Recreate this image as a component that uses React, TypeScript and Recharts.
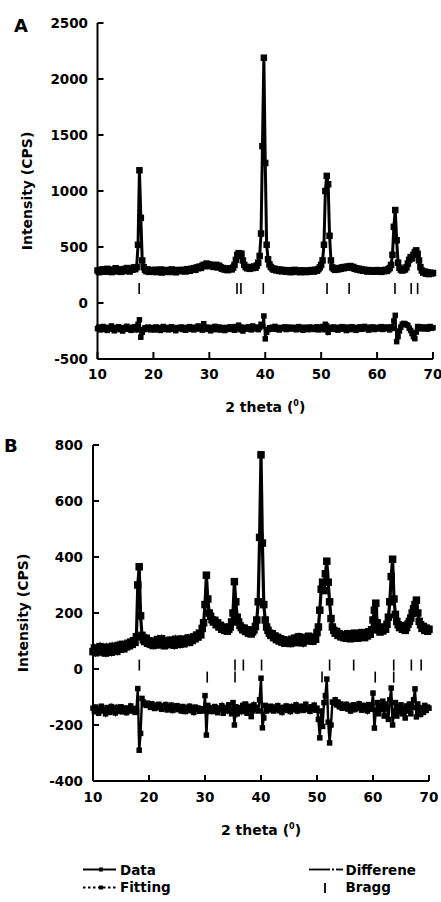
import React from 'react';
import { ComposedChart, Line, Scatter, XAxis, YAxis, Label, Legend } from 'recharts';

// ---------- shared 2-theta grid (degrees) ----------
const theta = [
  10, 10.25, 10.5, 10.75, 11, 11.25, 11.5, 11.75, 12, 12.25, 12.5, 12.75, 13, 13.25, 13.5, 13.75, 14, 14.25, 14.5, 14.75,
  15, 15.25, 15.5, 15.75, 16, 16.25, 16.5, 16.75, 17, 17.25, 17.5, 17.75, 18, 18.25, 18.5, 18.75, 19, 19.25, 19.5, 19.75,
  20, 20.25, 20.5, 20.75, 21, 21.25, 21.5, 21.75, 22, 22.25, 22.5, 22.75, 23, 23.25, 23.5, 23.75, 24, 24.25, 24.5, 24.75,
  25, 25.25, 25.5, 25.75, 26, 26.25, 26.5, 26.75, 27, 27.25, 27.5, 27.75, 28, 28.25, 28.5, 28.75, 29, 29.25, 29.5, 29.75,
  30, 30.25, 30.5, 30.75, 31, 31.25, 31.5, 31.75, 32, 32.25, 32.5, 32.75, 33, 33.25, 33.5, 33.75, 34, 34.25, 34.5, 34.75,
  35, 35.25, 35.5, 35.75, 36, 36.25, 36.5, 36.75, 37, 37.25, 37.5, 37.75, 38, 38.25, 38.5, 38.75, 39, 39.25, 39.5, 39.75,
  40, 40.25, 40.5, 40.75, 41, 41.25, 41.5, 41.75, 42, 42.25, 42.5, 42.75, 43, 43.25, 43.5, 43.75, 44, 44.25, 44.5, 44.75,
  45, 45.25, 45.5, 45.75, 46, 46.25, 46.5, 46.75, 47, 47.25, 47.5, 47.75, 48, 48.25, 48.5, 48.75, 49, 49.25, 49.5, 49.75,
  50, 50.25, 50.5, 50.75, 51, 51.25, 51.5, 51.75, 52, 52.25, 52.5, 52.75, 53, 53.25, 53.5, 53.75, 54, 54.25, 54.5, 54.75,
  55, 55.25, 55.5, 55.75, 56, 56.25, 56.5, 56.75, 57, 57.25, 57.5, 57.75, 58, 58.25, 58.5, 58.75, 59, 59.25, 59.5, 59.75,
  60, 60.25, 60.5, 60.75, 61, 61.25, 61.5, 61.75, 62, 62.25, 62.5, 62.75, 63, 63.25, 63.5, 63.75, 64, 64.25, 64.5, 64.75,
  65, 65.25, 65.5, 65.75, 66, 66.25, 66.5, 66.75, 67, 67.25, 67.5, 67.75, 68, 68.25, 68.5, 68.75, 69, 69.25, 69.5, 69.75,
  70,
];

// ---------- Panel A ----------
const obsA = [
  290, 275, 296, 283, 301, 279, 288, 305, 284, 292, 276, 298, 287, 310, 282, 295, 300, 278, 291, 303,
  286, 312, 294, 281, 305, 297, 318, 302, 320, 520, 1185, 760, 380, 320, 296, 284, 300, 278, 292, 285,
  281, 297, 276, 290, 284, 299, 272, 288, 295, 280, 291, 277, 286, 300, 283, 289, 274, 295, 287, 292,
  284, 296, 290, 281, 302, 293, 288, 305, 299, 311, 296, 318, 310, 325, 314, 332, 341, 328, 352, 336,
  345, 330, 338, 322, 330, 341, 318, 333, 320, 305, 312, 298, 306, 293, 301, 310, 300, 316, 340, 385,
  430, 445, 420, 440, 380, 340, 322, 310, 318, 305, 321, 312, 326, 315, 335, 360, 420, 620, 1400, 2190,
  1250, 520, 390, 345, 322, 310, 298, 305, 291, 300, 286, 297, 283, 294, 288, 279, 293, 285, 275, 290,
  282, 296, 278, 289, 284, 275, 292, 280, 287, 276, 291, 283, 279, 294, 286, 281, 297, 289, 302, 318,
  340, 380, 520, 1000, 1135, 1060, 600, 380, 318, 305, 296, 308, 300, 312, 305, 318, 310, 322, 315, 326,
  318, 330, 314, 322, 305, 311, 298, 306, 293, 301, 288, 296, 290, 281, 294, 285, 292, 279, 288, 283,
  294, 280, 289, 278, 291, 284, 296, 287, 300, 312, 340, 430, 680, 830, 560, 360, 315, 298, 290, 296,
  300, 318, 352, 385, 410, 398, 430, 455, 470, 440, 380, 320, 290, 272, 281, 262, 275, 258, 270, 264,
  268,
];

const diffA = [
  -228, -215, -240, -222, -210, -236, -225, -245, -218, -230, -205, -232, -248, -220, -226, -212, -238, -224, -250, -219,
  -230, -208, -235, -222, -244, -216, -228, -211, -240, -190, -150, -305, -262, -238, -221, -234, -215, -229, -240, -218,
  -226, -241, -214, -232, -220, -245, -223, -210, -236, -228, -218, -240, -225, -212, -234, -226, -247, -219, -231, -222,
  -214, -237, -226, -243, -218, -229, -211, -236, -224, -240, -216, -228, -205, -232, -219, -242, -185, -228, -215, -236,
  -222, -248, -217, -233, -209, -238, -226, -214, -241, -220, -230, -246, -218, -225, -236, -212, -229, -221, -243, -210,
  -224, -198, -238, -215, -250, -227, -219, -233, -212, -226, -240, -205, -222, -231, -215, -238, -220, -190, -205, -116,
  -320, -262, -238, -221, -234, -216, -228, -209, -235, -222, -241, -218, -230, -224, -213, -237, -226, -215, -232, -220,
  -228, -217, -239, -223, -211, -234, -225, -243, -216, -230, -222, -238, -214, -227, -219, -236, -224, -212, -240, -221,
  -226, -210, -238, -190, -205, -262, -235, -218, -229, -214, -236, -222, -242, -217, -228, -211, -233, -224, -246, -215,
  -226, -238, -212, -230, -221, -244, -218, -227, -213, -235, -224, -209, -231, -220, -242, -216, -228, -214, -237, -222,
  -217, -232, -223, -211, -236, -225, -214, -229, -220, -240, -212, -226, -160, -110, -345, -300, -250, -215, -190, -182,
  -186, -195, -200, -225, -245, -272, -300, -318, -260, -210, -224, -212, -231, -219, -228, -214, -233, -222, -210, -226,
  -220,
];

// calculated (fitted) profile A: [2theta, intensity]
const fitA: [number, number][] = [
  [10, 288], [11, 288], [12, 289], [13, 290], [14, 291], [15, 292], [16, 296], [16.5, 300], [17, 318], [17.25, 500],
  [17.5, 1160], [17.75, 740], [18, 372], [18.5, 310], [19, 294], [20, 288], [22, 288], [24, 288], [25, 290], [26, 294],
  [27, 302], [28, 312], [29, 325], [30, 335], [31, 330], [32, 318], [33, 305], [34, 302], [34.5, 335], [34.75, 380],
  [35, 425], [35.25, 440], [35.5, 425], [35.75, 430], [36, 375], [36.5, 322], [37, 312], [38, 318], [38.5, 338], [39, 410],
  [39.25, 600], [39.5, 1380], [39.75, 2170], [40, 1230], [40.25, 510], [40.5, 385], [41, 318], [42, 296], [44, 288], [46, 284],
  [48, 286], [49, 292], [49.5, 305], [50, 338], [50.5, 510], [50.75, 990], [51, 1120], [51.25, 1040], [51.5, 590], [51.75, 375],
  [52, 315], [53, 305], [54, 312], [55, 320], [56, 306], [57, 296], [58, 289], [60, 287], [61, 290], [62, 300],
  [62.5, 335], [62.75, 425], [63, 670], [63.25, 815], [63.5, 550], [63.75, 355], [64, 312], [64.5, 293], [65, 302], [65.5, 350],
  [66, 405], [66.5, 428], [67, 462], [67.5, 378], [68, 288], [68.5, 274], [69, 268], [70, 266],
];

const braggA = [17.45, 34.95, 35.65, 39.65, 51.05, 55.0, 63.2, 66.1, 67.25];
const braggLevelA = 130;
const yTicksA = [-500, 0, 500, 1000, 1500, 2000, 2500];

// ---------- Panel B ----------
const obsB = [
  62, 75, 58, 70, 66, 80, 61, 73, 68, 57, 78, 66, 72, 60, 81, 69, 74, 63, 84, 71,
  77, 88, 72, 85, 79, 92, 83, 96, 88, 101, 95, 115, 300, 365, 190, 120, 104, 98, 110, 92,
  101, 88, 97, 84, 99, 90, 105, 86, 94, 108, 91, 83, 100, 95, 87, 103, 92, 98, 85, 106,
  93, 100, 88, 107, 96, 90, 104, 99, 111, 95, 106, 102, 115, 108, 121, 114, 128, 122, 145, 165,
  230, 335, 250, 200, 188, 176, 168, 174, 158, 165, 150, 156, 142, 150, 138, 146, 135, 142, 150, 168,
  200, 312, 240, 185, 168, 155, 148, 140, 146, 134, 140, 128, 136, 125, 133, 140, 152, 175, 240, 470,
  765, 450, 230, 175, 150, 138, 128, 120, 126, 112, 118, 105, 113, 100, 108, 96, 104, 92, 101, 95,
  103, 91, 106, 97, 110, 94, 102, 115, 98, 107, 93, 112, 100, 108, 117, 103, 111, 99, 114, 106,
  130, 150, 210, 285, 310, 280, 340, 385, 310, 240, 180, 150, 138, 128, 134, 120, 126, 115, 122, 112,
  120, 110, 126, 116, 108, 122, 113, 128, 118, 110, 125, 115, 130, 121, 112, 127, 118, 133, 124, 140,
  175, 210, 235, 165, 140, 132, 145, 136, 150, 142, 160, 185, 240, 330, 392, 250, 195, 170, 158, 148,
  155, 142, 150, 138, 148, 160, 170, 182, 200, 215, 230, 246, 200, 170, 158, 145, 152, 138, 146, 135,
  142,
];

const diffB = [
  -140, -152, -136, -148, -158, -142, -133, -150, -145, -160, -138, -147, -155, -134, -149, -141, -157, -137, -151, -144,
  -135, -153, -146, -139, -156, -143, -150, -132, -148, -141, -155, -150, -70, -290, -230, -105, -118, -125, -130, -122,
  -128, -137, -124, -133, -141, -129, -138, -126, -135, -144, -131, -139, -127, -146, -134, -140, -129, -148, -136, -142,
  -131, -145, -138, -150, -134, -143, -152, -137, -146, -133, -149, -140, -155, -136, -144, -139, -151, -142, -148, -150,
  -95, -236, -130, -150, -138, -152, -141, -134, -148, -156, -139, -145, -131, -158, -143, -137, -150, -128, -146, -160,
  -120, -200, -135, -160, -145, -138, -152, -130, -147, -125, -158, -140, -133, -170, -150, -128, -144, -137, -150, -110,
  -33, -210, -175, -130, -150, -138, -146, -133, -141, -150, -136, -144, -131, -149, -140, -155, -137, -145, -132, -148,
  -139, -152, -134, -146, -141, -128, -150, -137, -144, -133, -148, -140, -126, -145, -138, -151, -135, -143, -129, -147,
  -140, -180, -246, -150, -205, -120, -95, -36, -190, -264, -200, -118, -122, -110, -128, -118, -135, -125, -140, -130,
  -138, -126, -143, -132, -150, -137, -128, -145, -133, -141, -124, -139, -147, -130, -142, -135, -150, -127, -144, -138,
  -86, -211, -150, -120, -160, -130, -145, -115, -168, -125, -140, -180, -110, -68, -200, -155, -120, -168, -135, -150,
  -128, -160, -140, -175, -132, -150, -125, -160, -138, -110, -71, -171, -125, -150, -162, -138, -155, -130, -148, -136,
  -140,
];

const fitB: [number, number][] = [
  [10, 68], [12, 72], [14, 78], [16, 88], [17, 97], [17.5, 104], [17.75, 118], [18, 290], [18.25, 350], [18.5, 180],
  [18.75, 118], [19, 102], [20, 96], [22, 94], [24, 94], [26, 100], [27, 106], [28, 118], [29, 138], [29.5, 152],
  [29.75, 168], [30, 225], [30.25, 325], [30.5, 245], [30.75, 198], [31, 182], [32, 160], [33, 146], [34, 140], [34.5, 148],
  [34.75, 165], [35, 198], [35.25, 300], [35.5, 235], [35.75, 185], [36, 166], [37, 142], [38, 132], [38.5, 134], [39, 150],
  [39.25, 172], [39.5, 238], [39.75, 460], [40, 745], [40.25, 440], [40.5, 228], [40.75, 172], [41, 150], [42, 120], [43, 108],
  [44, 100], [46, 102], [48, 105], [49, 110], [49.5, 116], [50, 130], [50.25, 152], [50.5, 212], [50.75, 280], [51, 305],
  [51.25, 290], [51.5, 335], [51.75, 370], [52, 305], [52.25, 238], [52.5, 180], [52.75, 152], [53, 138], [54, 122], [56, 118],
  [58, 120], [59, 125], [59.5, 140], [60, 172], [60.25, 205], [60.5, 228], [60.75, 165], [61, 140], [62, 145], [62.5, 158],
  [62.75, 182], [63, 238], [63.25, 325], [63.5, 380], [63.75, 255], [64, 196], [64.5, 160], [65, 150], [66, 150], [66.5, 168],
  [67, 196], [67.5, 228], [67.75, 240], [68, 202], [68.5, 160], [69, 148], [70, 140],
];

const braggB1 = [18.27, 35.36, 36.85, 40.1, 52.25, 56.55, 63.7, 66.85, 68.6];
const braggB2 = [30.4, 35.36, 50.9, 60.4, 63.7];
const braggLevelB1 = 14;
const braggLevelB2 = -29;
const yTicksB = [-400, -200, 0, 200, 400, 600, 800];

const xTicks = [10, 20, 30, 40, 50, 60, 70];
const legendLabels = ['Data', 'Fitting', 'Differene', 'Bragg'];

// ---------- tables ----------
const tableA = theta.map((t, i) => ({ theta: t, obs: obsA[i], diff: diffA[i] }));
const tableB = theta.map((t, i) => ({ theta: t, obs: obsB[i], diff: diffB[i] }));
const fitTableA = fitA.map(([t, v]) => ({ theta: t, fit: v }));
const fitTableB = fitB.map(([t, v]) => ({ theta: t, fit: v }));
const braggTableA = braggA.map((t) => ({ theta: t, bragg: braggLevelA }));
const braggTableB1 = braggB1.map((t) => ({ theta: t, bragg: braggLevelB1 }));
const braggTableB2 = braggB2.map((t) => ({ theta: t, bragg: braggLevelB2 }));

const FONT = "'DejaVu Sans', 'Liberation Sans', sans-serif";
const tickStyle = { fill: '#000', fontSize: 13.5, fontFamily: FONT, fontWeight: 700 };
const textStyle: React.CSSProperties = { fontFamily: FONT, fontWeight: 700, fontSize: 13.5, fill: '#000' };

const BraggTick = (props: any) => {
  const { cx, cy } = props;
  if (cx == null || cy == null) return null;
  return <line x1={cx} x2={cx} y1={cy - 5.5} y2={cy + 5.5} stroke="#000" strokeWidth={1.6} />;
};

const squareDot = (size: number) => (props: any) => {
  const { cx, cy, index } = props;
  if (cx == null || cy == null) return <g key={`e${index}`} />;
  return <rect key={`d${index}`} x={cx - size / 2} y={cy - size / 2} width={size} height={size} fill="#000" />;
};
const obsDotA = squareDot(6.5);
const obsDotB = squareDot(7.5);
const diffDot = squareDot(5.5);

const makeYTitle = (letter: string, letterX: number, letterY: number, titleX: number) => (props: any) => {
  const vb = props.viewBox || {};
  const cy = vb.y + vb.height / 2;
  return (
    <g>
      <text x={letterX} y={letterY} style={{ ...textStyle, fontSize: 18 }}>{letter}</text>
      <text
        x={titleX}
        y={cy}
        textAnchor="middle"
        transform={`rotate(-90, ${titleX}, ${cy})`}
        style={{ ...textStyle, fontSize: 14 }}
      >
        Intensity (CPS)
      </text>
    </g>
  );
};

const makeXTitle = (dy: number) => (props: any) => {
  const vb = props.viewBox || {};
  const cx = vb.x + vb.width / 2;
  return (
    <text x={cx} y={vb.y + dy} textAnchor="middle" style={{ ...textStyle, fontSize: 14 }}>
      2 theta (<tspan fontSize={8} dy={-6.5}>0</tspan>
      <tspan dy={6.5}>)</tspan>
    </text>
  );
};

const LegendBox = () => (
  <svg width={441} height={44} style={{ display: 'block' }}>
    {/* Data */}
    <line x1={83} x2={116} y1={9.5} y2={9.5} stroke="#000" strokeWidth={1.8} />
    <rect x={99} y={7.5} width={4} height={4} fill="#000" />
    <text x={120} y={15} style={textStyle}>{legendLabels[0]}</text>
    {/* Fitting */}
    <line x1={83} x2={117} y1={27.5} y2={27.5} stroke="#000" strokeWidth={1.8} strokeDasharray="2.5 2.5" />
    <rect x={99} y={25.5} width={4} height={4} fill="#000" />
    <text x={120} y={32} style={textStyle}>{legendLabels[1]}</text>
    {/* Difference */}
    <line x1={309} x2={330} y1={9.5} y2={9.5} stroke="#000" strokeWidth={1.8} />
    <line x1={332} x2={334} y1={9.5} y2={9.5} stroke="#000" strokeWidth={1.8} />
    <line x1={336} x2={343} y1={9.5} y2={9.5} stroke="#000" strokeWidth={1.8} />
    <text x={345.5} y={15} style={textStyle}>{legendLabels[2]}</text>
    {/* Bragg */}
    <line x1={325} x2={325} y1={23} y2={33} stroke="#000" strokeWidth={1.8} />
    <text x={345.5} y={32} style={textStyle}>{legendLabels[3]}</text>
  </svg>
);

export default function App() {
  const axisLine = { stroke: '#000', strokeWidth: 2 };
  const tickLine = { stroke: '#000', strokeWidth: 2 };
  return (
    <div style={{ position: 'absolute', left: 0, top: 0, width: 441, height: 902, background: '#fff' }}>
      {/* Panel A */}
      <div style={{ position: 'absolute', left: 0, top: 0 }}>
        <ComposedChart width={441} height={420} data={tableA} margin={{ top: 23, right: 8, bottom: 11, left: 0 }}>
          <XAxis
            dataKey="theta"
            type="number"
            domain={[10, 70]}
            ticks={xTicks}
            interval={0}
            height={50}
            axisLine={axisLine}
            tickLine={tickLine}
            tickSize={-7}
            tickMargin={17}
            tick={tickStyle}
          >
            <Label content={makeXTitle(53)} />
          </XAxis>
          <YAxis
            type="number"
            domain={[-500, 2500]}
            ticks={yTicksA}
            interval={0}
            width={97.5}
            axisLine={axisLine}
            tickLine={tickLine}
            tickSize={-6}
            tickMargin={15.5}
            tick={tickStyle}
          >
            <Label content={makeYTitle('A', 14, 31.5, 32)} />
          </YAxis>
          <Line data={fitTableA} dataKey="fit" stroke="#000" strokeWidth={1} strokeDasharray="2 2" dot={false} activeDot={false} isAnimationActive={false} />
          <Line dataKey="obs" stroke="#000" strokeWidth={3} dot={obsDotA} activeDot={false} isAnimationActive={false} />
          <Line dataKey="diff" stroke="#000" strokeWidth={2.4} dot={diffDot} activeDot={false} isAnimationActive={false} />
          <Scatter data={braggTableA} dataKey="bragg" shape={BraggTick} isAnimationActive={false} />
        </ComposedChart>
      </div>
      {/* Panel B */}
      <div style={{ position: 'absolute', left: 0, top: 420 }}>
        <ComposedChart width={441} height={482} data={tableB} margin={{ top: 25, right: 12, bottom: 71, left: 0 }}>
          <XAxis
            dataKey="theta"
            type="number"
            domain={[10, 70]}
            ticks={xTicks}
            interval={0}
            height={50}
            axisLine={axisLine}
            tickLine={tickLine}
            tickSize={-6}
            tickMargin={17.5}
            tick={tickStyle}
          >
            <Label content={makeXTitle(54)} />
          </XAxis>
          <YAxis
            type="number"
            domain={[-400, 800]}
            ticks={yTicksB}
            interval={0}
            width={93}
            axisLine={axisLine}
            tickLine={tickLine}
            tickSize={-6}
            tickMargin={16}
            tick={tickStyle}
          >
            <Label content={makeYTitle('B', 4, 32, 28)} />
          </YAxis>
          <Line data={fitTableB} dataKey="fit" stroke="#000" strokeWidth={1} strokeDasharray="2 2" dot={false} activeDot={false} isAnimationActive={false} />
          <Line dataKey="obs" stroke="#000" strokeWidth={3.2} dot={obsDotB} activeDot={false} isAnimationActive={false} />
          <Line dataKey="diff" stroke="#000" strokeWidth={2.4} dot={diffDot} activeDot={false} isAnimationActive={false} />
          <Scatter data={braggTableB1} dataKey="bragg" shape={BraggTick} isAnimationActive={false} />
          <Scatter data={braggTableB2} dataKey="bragg" shape={BraggTick} isAnimationActive={false} />
          <Legend
            layout="horizontal"
            verticalAlign="middle"
            align="center"
            content={LegendBox}
            wrapperStyle={{ left: 0, top: 440, width: 441, height: 44 }}
          />
        </ComposedChart>
      </div>
    </div>
  );
}
